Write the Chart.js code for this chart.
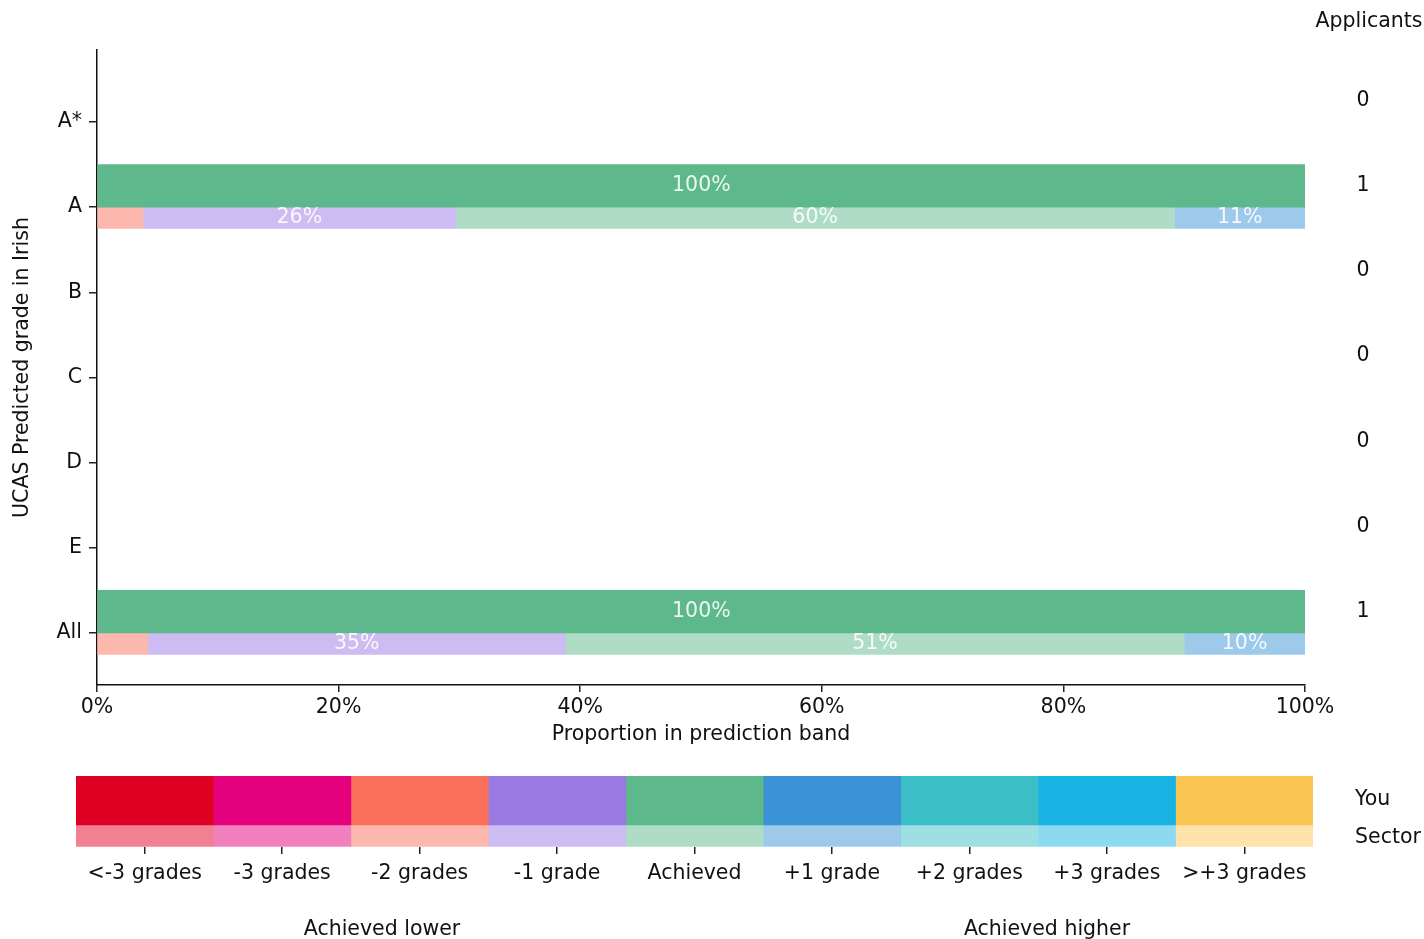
<!DOCTYPE html>
<html>
<head>
<meta charset="utf-8">
<script src="https://cdn.jsdelivr.net/npm/chart.js@4.4.0/dist/chart.umd.min.js"></script>
<style>
html,body{margin:0;padding:0;background:#fff;}
#wrap{position:relative;width:1424px;height:939px;overflow:hidden;background:#fff;}
#c1{position:absolute;left:0;top:0;}
#c2{position:absolute;left:0;top:760px;}
</style>
</head>
<body>
<div id="wrap">
<canvas id="c1" width="1424" height="760"></canvas>
<canvas id="c2" width="1424" height="179"></canvas>
</div>
<script>
// ---------- data ----------
const grades = ['A*', 'A', 'B', 'C', 'D', 'E', 'All'];
const applicants = [0, 1, 0, 0, 0, 0, 1];
const bands = ['<-3 grades', '-3 grades', '-2 grades', '-1 grade', 'Achieved', '+1 grade', '+2 grades', '+3 grades', '>+3 grades'];
const groupLabels = ['Achieved lower', 'Achieved higher'];
const rowLabels = ['You', 'Sector'];
const xTicks = [0, 20, 40, 60, 80, 100];

// proportion (%) in each band, "You" per predicted grade
const youAstar = [0, 0, 0, 0, 0, 0, 0, 0, 0];
const youA     = [0, 0, 0, 0, 100, 0, 0, 0, 0];
const youB     = [0, 0, 0, 0, 0, 0, 0, 0, 0];
const youC     = [0, 0, 0, 0, 0, 0, 0, 0, 0];
const youD     = [0, 0, 0, 0, 0, 0, 0, 0, 0];
const youE     = [0, 0, 0, 0, 0, 0, 0, 0, 0];
const youAll   = [0, 0, 0, 0, 100, 0, 0, 0, 0];

// proportion (%) in each band, "Sector" per predicted grade
const sectorAstar = [0, 0, 0, 0, 0, 0, 0, 0, 0];
const sectorA     = [0, 0, 3.8, 25.9, 59.5, 10.8, 0, 0, 0];
const sectorB     = [0, 0, 0, 0, 0, 0, 0, 0, 0];
const sectorC     = [0, 0, 0, 0, 0, 0, 0, 0, 0];
const sectorD     = [0, 0, 0, 0, 0, 0, 0, 0, 0];
const sectorE     = [0, 0, 0, 0, 0, 0, 0, 0, 0];
const sectorAll   = [0, 0, 4.2, 34.6, 51.2, 10.0, 0, 0, 0];

const legendCell = [1, 1, 1, 1, 1, 1, 1, 1, 1];

// ---------- styles ----------
const youColors = ['#e00024', '#e5007d', '#fb705a', '#9a79e3', '#5db88c', '#3b93d6', '#3bbec5', '#18b2e3', '#fac553'];
const sectorColors = ['#f08092', '#f280be', '#fdb8ad', '#cdbcf1', '#aedcc6', '#9dc9eb', '#9ddfe2', '#8cd9f1', '#fde2a9'];
const FONT = '"DejaVu Sans", "Liberation Sans", sans-serif';
const FS = 20.5;
const TXT = '#111111';
const YOU_T = 42.6, SECTOR_T = 21.3;

Chart.defaults.font.family = FONT;
Chart.defaults.font.size = FS;
Chart.defaults.color = TXT;

const youRows = [youAstar, youA, youB, youC, youD, youE, youAll];
const sectorRows = [sectorAstar, sectorA, sectorB, sectorC, sectorD, sectorE, sectorAll];

const datasets = [];
bands.forEach((b, j) => {
  datasets.push({
    label: 'You ' + b, stack: 'You', barThickness: YOU_T,
    backgroundColor: youColors[j], borderWidth: 0,
    data: grades.map((g, i) => ({ x: youRows[i][j] === 0 ? null : youRows[i][j], y: i }))
  });
});
bands.forEach((b, j) => {
  datasets.push({
    label: 'Sector ' + b, stack: 'Sector', barThickness: SECTOR_T,
    backgroundColor: sectorColors[j], borderWidth: 0,
    data: grades.map((g, i) => ({ x: sectorRows[i][j] === 0 ? null : sectorRows[i][j], y: i }))
  });
});

const labelPlugin = {
  id: 'labelPlugin',
  afterDatasetsDraw(chart) {
    const ctx = chart.ctx;
    ctx.save();
    ctx.font = FS + 'px ' + FONT;
    ctx.textAlign = 'center';
    ctx.textBaseline = 'middle';
    ctx.fillStyle = 'rgba(255,255,255,0.88)';
    chart.data.datasets.forEach((ds, di) => {
      const meta = chart.getDatasetMeta(di);
      meta.data.forEach((el, i) => {
        const v = ds.data[i].x;
        if (v !== null && v >= 5) {
          const p = el.getCenterPoint();
          ctx.fillText(Math.round(v) + '%', p.x, p.y);
        }
      });
    });
    // applicants column
    const ys = chart.scales.y;
    ctx.fillStyle = TXT;
    ctx.fillText('Applicants', 1369, 22);
    applicants.forEach((n, i) => {
      ctx.fillText(String(n), 1363, ys.getPixelForValue(i) - 21.5);
    });
    ctx.restore();
  }
};

new Chart(document.getElementById('c1'), {
  type: 'bar',
  data: { datasets },
  options: {
    indexAxis: 'y',
    responsive: false,
    animation: false,
    devicePixelRatio: 1,
    layout: { padding: { left: 0, right: 119, top: 50, bottom: 0 } },
    plugins: { legend: { display: false }, tooltip: { enabled: false } },
    scales: {
      x: {
        type: 'linear', min: 0, max: 100, stacked: true, position: 'bottom', offset: false,
        afterBuildTicks: s => { s.ticks = xTicks.map(v => ({ value: v })); },
        afterFit: s => { s.height = 75; },
        ticks: { callback: v => v + '%', padding: 3, maxRotation: 0, autoSkip: false, color: TXT },
        grid: { offset: false, drawOnChartArea: false, drawTicks: true, tickLength: 7, color: '#222', lineWidth: 1.5 },
        border: { display: true, color: '#111', width: 1.5 },
        title: { display: true, text: 'Proportion in prediction band', padding: { top: 0, bottom: 13 }, color: TXT }
      },
      y: {
        type: 'linear', reverse: true, min: -0.845, max: 6.61, position: 'left', offset: false,
        afterBuildTicks: s => { s.ticks = grades.map((g, i) => ({ value: i })); },
        afterFit: s => { s.width = 97; },
        ticks: { callback: v => grades[v], padding: 7, autoSkip: false, color: TXT },
        grid: { offset: false, drawOnChartArea: false, drawTicks: true, tickLength: 8, color: '#222', lineWidth: 1.5 },
        border: { display: true, color: '#111', width: 1.5 },
        title: { display: true, text: 'UCAS Predicted grade in Irish', padding: { top: 10, bottom: 0 }, color: TXT }
      }
    }
  },
  plugins: [labelPlugin]
});

// ---------- legend chart ----------
const legendSets = [];
bands.forEach((b, j) => {
  legendSets.push({ label: 'You ' + b, stack: 'You', barThickness: 49, backgroundColor: youColors[j], borderWidth: 0,
    data: [{ x: legendCell[j], y: 0 }] });
});
bands.forEach((b, j) => {
  legendSets.push({ label: 'Sector ' + b, stack: 'Sector', barThickness: 21.5, backgroundColor: sectorColors[j], borderWidth: 0,
    data: [{ x: legendCell[j], y: 0 }] });
});

const legendText = {
  id: 'legendText',
  afterDraw(chart) {
    const ctx = chart.ctx;
    ctx.save();
    ctx.font = FS + 'px ' + FONT;
    ctx.fillStyle = TXT;
    ctx.textBaseline = 'middle';
    ctx.textAlign = 'left';
    ctx.fillText(rowLabels[0], 1355, 40);
    ctx.fillText(rowLabels[1], 1355, 78);
    ctx.textAlign = 'center';
    ctx.fillText(groupLabels[0], 382, 170);
    ctx.fillText(groupLabels[1], 1047, 170);
    ctx.restore();
  }
};

new Chart(document.getElementById('c2'), {
  type: 'bar',
  data: { datasets: legendSets },
  options: {
    indexAxis: 'y',
    responsive: false,
    animation: false,
    devicePixelRatio: 1,
    layout: { padding: { left: 76, right: 111, top: 16, bottom: 0 } },
    plugins: { legend: { display: false }, tooltip: { enabled: false } },
    scales: {
      x: {
        type: 'linear', min: 0, max: bands.length, stacked: true, position: 'bottom', offset: false,
        afterBuildTicks: s => { s.ticks = bands.map((b, j) => ({ value: j + 0.5 })); },
        afterFit: s => { s.height = 92; },
        ticks: { callback: (v, i) => bands[i], padding: 7, maxRotation: 0, autoSkip: false, color: TXT },
        grid: { offset: false, drawOnChartArea: false, drawTicks: true, tickLength: 7, color: '#222', lineWidth: 1.5 },
        border: { display: false }
      },
      y: { type: 'linear', reverse: true, min: -0.69, max: 0.31, display: false, offset: false, grid: { offset: false } }
    }
  },
  plugins: [legendText]
});
</script>
</body>
</html>
